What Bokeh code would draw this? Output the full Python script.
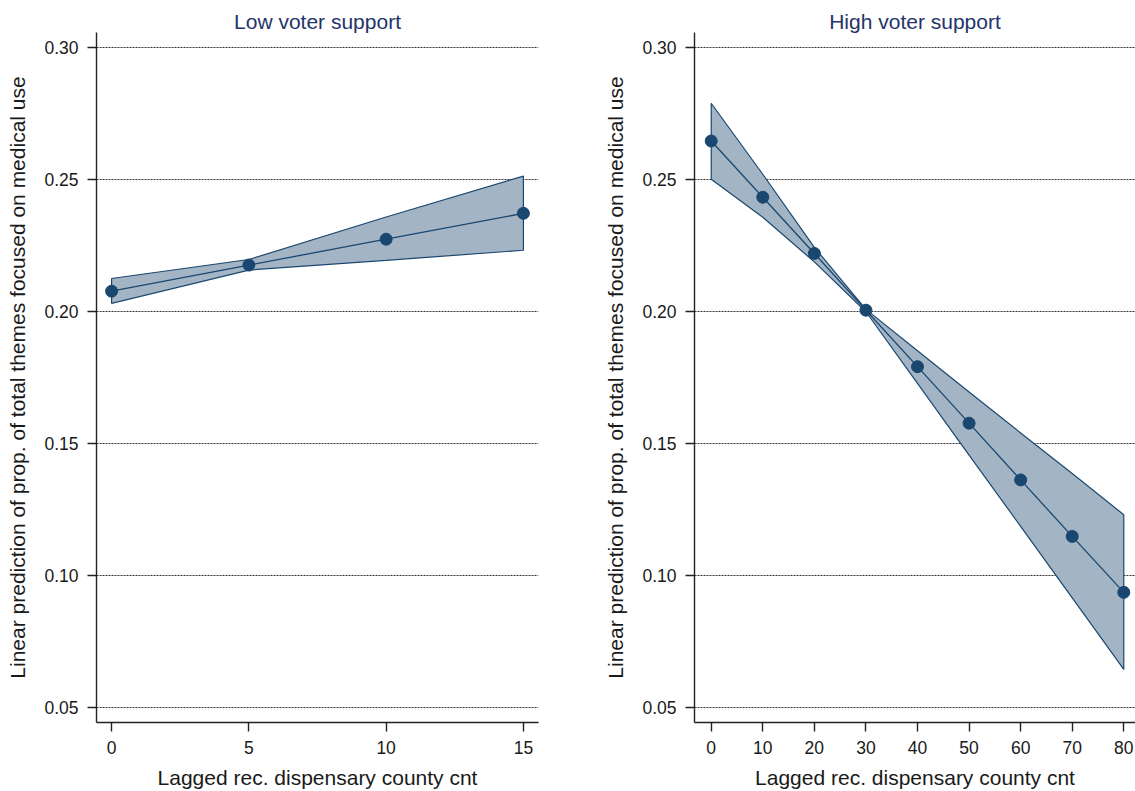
from bokeh.plotting import figure
from bokeh.layouts import row
from bokeh.models import FixedTicker, PrintfTickFormatter, Range1d
from bokeh.embed import file_html
from bokeh.resources import INLINE

# ---- data ----
low_x = [0, 5, 10, 15]
low_fit = [0.2077, 0.2176, 0.2274, 0.2372]
low_lo = [0.2031, 0.2157, 0.2194, 0.2232]
low_hi = [0.2125, 0.2197, 0.2358, 0.2513]

high_x = [0, 10, 20, 30, 40, 50, 60, 70, 80]
high_fit = [0.2646, 0.2433, 0.2220, 0.2005, 0.1791, 0.1577, 0.1362, 0.1148, 0.0936]
high_hi = [0.2789, 0.2520, 0.2243, 0.2008, 0.1851, 0.1695, 0.1540, 0.1386, 0.1230]
high_lo = [0.2501, 0.2357, 0.2188, 0.1999, 0.1728, 0.1456, 0.1186, 0.0915, 0.0644]

y_ticks = [0.05, 0.10, 0.15, 0.20, 0.25, 0.30]
low_xticks = [0, 5, 10, 15]
high_xticks = [0, 10, 20, 30, 40, 50, 60, 70, 80]

titles = ["Low voter support", "High voter support"]
x_label = "Lagged rec. dispensary county cnt"
y_label = "Linear prediction of prop. of total themes focused on medical use"

NAVY = "#1a476f"
BAND = "#a3b5c5"
FONT = "Liberation Sans"
TXT = "#1a1a1a"


def panel(title, xs, fit, lo, hi, xticks, xr, width, border_left, border_right):
    p = figure(width=width, height=791, output_backend="svg", toolbar_location=None,
               x_range=Range1d(*xr), y_range=Range1d(0.0443, 0.3057),
               min_border_left=border_left, min_border_right=border_right,
               min_border_top=32, min_border_bottom=68)
    p.title.text = title
    p.title.align = "center"
    p.title.text_font = FONT
    p.title.text_font_size = "21px"
    p.title.text_font_style = "normal"
    p.title.text_color = "#24346a"
    p.title.standoff = 0
    p.title.offset = 0
    p.outline_line_color = None
    p.background_fill_color = "white"
    p.border_fill_color = "white"

    p.xgrid.visible = False
    p.ygrid.ticker = FixedTicker(ticks=y_ticks)
    p.ygrid.grid_line_color = "#333333"
    p.ygrid.grid_line_dash = "2 1"
    p.ygrid.grid_line_width = 1

    p.yaxis.ticker = FixedTicker(ticks=y_ticks)
    p.yaxis.formatter = PrintfTickFormatter(format="%.2f")
    p.xaxis.ticker = FixedTicker(ticks=xticks)
    for ax in (p.xaxis[0], p.yaxis[0]):
        ax.axis_line_color = "#222222"
        ax.axis_line_width = 1.4
        ax.major_tick_line_color = "#222222"
        ax.major_tick_line_width = 1.4
        ax.major_tick_out = 9
        ax.major_tick_in = 0
        ax.minor_tick_line_color = None
        ax.major_label_text_font = FONT
        ax.major_label_text_font_size = "17.5px"
        ax.major_label_text_color = TXT
        ax.axis_label_text_font = FONT
        ax.axis_label_text_font_size = "21px"
        ax.axis_label_text_font_style = "normal"
        ax.axis_label_text_color = TXT
    p.yaxis.axis_label = y_label
    p.xaxis.axis_label = x_label
    p.yaxis.major_label_standoff = 9
    p.yaxis.axis_label_standoff = 12
    p.xaxis.major_label_standoff = 9
    p.xaxis.axis_label_standoff = 9

    band_x = list(xs) + list(reversed(xs))
    band_y = list(hi) + list(reversed(lo))
    p.patch(band_x, band_y, fill_color=BAND, fill_alpha=1.0,
            line_color=NAVY, line_width=1.2)
    p.line(xs, fit, line_color=NAVY, line_width=1.3)
    p.scatter(xs, fit, size=12, fill_color=NAVY, line_color=NAVY)
    return p


p1 = panel(titles[0], low_x, low_fit, low_lo, low_hi, low_xticks,
           (-0.55, 15.55), 598, 96, 60)
p2 = panel(titles[1], high_x, high_fit, high_lo, high_hi, high_xticks,
           (-3.24, 82.27), 537, 96, 0)

layout = row(p1, p2)
open("out.html", "w").write(file_html(layout, INLINE))
